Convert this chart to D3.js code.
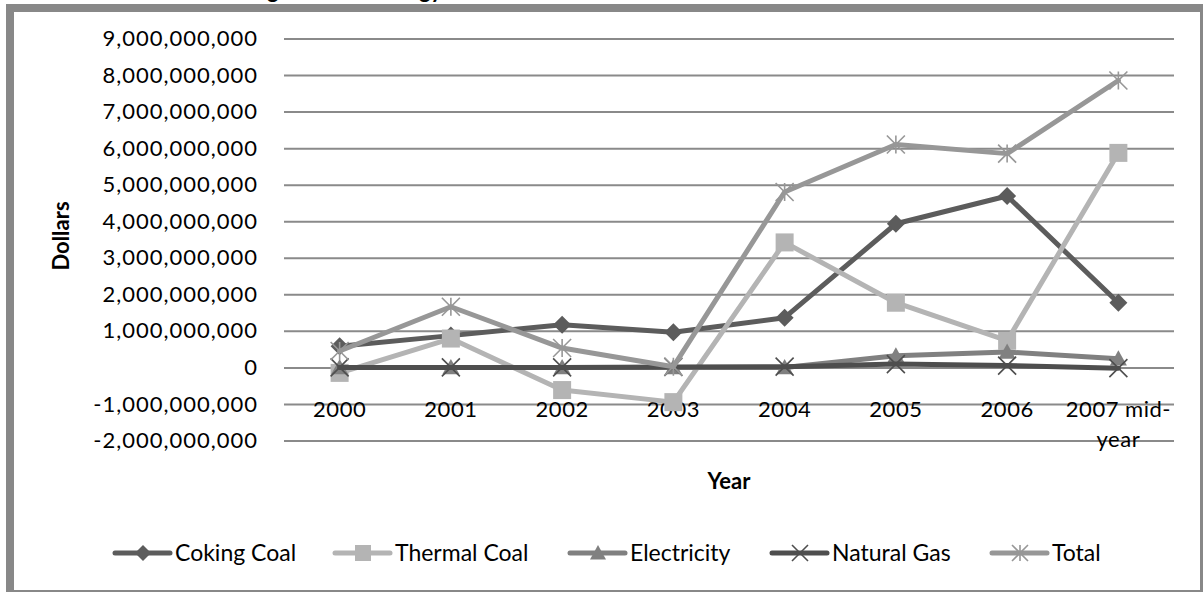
<!DOCTYPE html>
<html>
<head>
<meta charset="utf-8">
<script src="https://cdn.jsdelivr.net/npm/d3@7"></script>
<style>
  html, body { margin: 0; padding: 0; background: #fff; overflow: hidden; }
  svg { display: block; font-family: Lato, "Open Sans", sans-serif; }
</style>
</head>
<body>
<svg id="chart" width="1203" height="592"></svg>
<script>
// ---- data -------------------------------------------------------------
const categories = ["2000", "2001", "2002", "2003", "2004", "2005", "2006", "2007 mid-\nyear"];
const cokingCoal  = [0.58e9, 0.87e9, 1.17e9, 0.96e9, 1.36e9, 3.93e9, 4.69e9, 1.77e9];
const thermalCoal = [-0.15e9, 0.79e9, -0.62e9, -0.95e9, 3.42e9, 1.77e9, 0.73e9, 5.87e9];
const electricity = [0, 0, 0, 0, 0, 0.32e9, 0.42e9, 0.24e9];
const naturalGas  = [0, 0, 0, 0.01e9, 0.02e9, 0.09e9, 0.05e9, -0.02e9];
const total       = [0.45e9, 1.66e9, 0.53e9, 0.02e9, 4.80e9, 6.10e9, 5.85e9, 7.85e9];
const seriesNames = ["Coking Coal", "Thermal Coal", "Electricity", "Natural Gas", "Total"];
const yTicks = d3.range(-2e9, 9e9 + 1, 1e9);
const titleText = "Mining Coal and Energy Trade";

// ---- styling ----------------------------------------------------------
const styles = [
  { color: "#5c5c5c", marker: "diamond" },
  { color: "#b4b4b4", marker: "square" },
  { color: "#808080", marker: "triangle" },
  { color: "#4e4e4e", marker: "x" },
  { color: "#979797", marker: "star" }
];
const seriesValues = [cokingCoal, thermalCoal, electricity, naturalGas, total];
const series = seriesNames.map((name, i) => ({ name, values: seriesValues[i], ...styles[i] }));

const svg = d3.select("#chart");
const plot = { left: 284, right: 1174, top: 38.5, bottom: 440.5 };

const x = d3.scaleBand().domain(categories).range([plot.left, plot.right]);
const cx = c => x(c) + x.bandwidth() / 2;
const y = d3.scaleLinear().domain([-2e9, 9e9]).range([plot.bottom, plot.top]);

// plain hyphen for negative numbers, comma grouping
const fmt = d3.formatLocale({ decimal: ".", thousands: ",", grouping: [3], currency: ["$", ""], minus: "-" }).format(",");

// chart title, sitting above the frame
const title = svg.append("text")
  .attr("y", -2)
  .attr("font-size", 22).attr("font-weight", "bold").attr("fill", "#000")
  .text(titleText);
title.attr("x", 267 - title.node().getSubStringLength(0, titleText.indexOf("g")));

// chart area frame
svg.append("rect")
  .attr("x", 10).attr("y", 8).attr("width", 1194).attr("height", 586)
  .attr("fill", "#fff").attr("stroke", "#888888").attr("stroke-width", 8);

// gridlines + value labels
const yAxis = svg.append("g")
  .attr("transform", `translate(${plot.left},0)`)
  .call(d3.axisLeft(y).tickValues(yTicks).tickFormat(fmt)
    .tickSize(-(plot.right - plot.left)).tickPadding(26));
yAxis.select(".domain").remove();
yAxis.selectAll(".tick line").attr("stroke", "#8a8a8a").attr("stroke-width", 2);
yAxis.selectAll(".tick text").attr("font-size", 22).attr("fill", "#000")
  .attr("font-family", "Lato, sans-serif").attr("letter-spacing", 1);

// category labels
const xAxis = svg.append("g")
  .attr("transform", `translate(0,${y(0)})`)
  .call(d3.axisBottom(x).tickSize(0));
xAxis.select(".domain").remove();
xAxis.selectAll(".tick text").each(function (d) {
  const t = d3.select(this);
  t.text(null).attr("y", 50).attr("dy", 0)
    .attr("font-size", 22).attr("fill", "#000").attr("font-family", "Lato, sans-serif")
    .attr("letter-spacing", 0.5);
  d.split("\n").forEach((line, i) => {
    t.append("tspan").attr("x", 0).attr("dy", i === 0 ? 0 : 30).text(line);
  });
});

// axis titles
svg.append("text")
  .attr("transform", "translate(69,236) rotate(-90)")
  .attr("text-anchor", "middle").attr("font-size", 22).attr("font-weight", "bold")
  .text("Dollars");
svg.append("text")
  .attr("x", (plot.left + plot.right) / 2).attr("y", 489)
  .attr("text-anchor", "middle").attr("font-size", 22).attr("font-weight", "bold")
  .text("Year");

// markers
function drawMarker(g, type, color, px, py, s) {
  const h = s / 2;
  if (type === "diamond") {
    g.append("path").attr("d", `M${px},${py - h}L${px + h},${py}L${px},${py + h}L${px - h},${py}Z`).attr("fill", color);
  } else if (type === "square") {
    g.append("rect").attr("x", px - h).attr("y", py - h).attr("width", s).attr("height", s).attr("fill", color);
  } else if (type === "triangle") {
    g.append("path").attr("d", `M${px},${py - h}L${px + h},${py + h * 0.8}L${px - h},${py + h * 0.8}Z`).attr("fill", color);
  } else if (type === "x") {
    g.append("path").attr("d", `M${px - h},${py - h}L${px + h},${py + h}M${px + h},${py - h}L${px - h},${py + h}`)
      .attr("stroke", color).attr("stroke-width", 1.6).attr("fill", "none");
  } else if (type === "star") {
    g.append("path").attr("d", `M${px - h},${py - h}L${px + h},${py + h}M${px + h},${py - h}L${px - h},${py + h}M${px},${py - h}L${px},${py + h}`)
      .attr("stroke", color).attr("stroke-width", 1.6).attr("fill", "none");
  }
}
const markerSize = { diamond: 18, square: 18, triangle: 17, x: 18, star: 18 };

const line = d3.line().x((d, i) => cx(categories[i])).y(d => y(d));
series.forEach(s => {
  const g = svg.append("g");
  g.append("path").attr("d", line(s.values)).attr("fill", "none")
    .attr("stroke", s.color).attr("stroke-width", 5).attr("stroke-linejoin", "round").attr("stroke-linecap", "round");
  s.values.forEach((v, i) => drawMarker(g, s.marker, s.color, cx(categories[i]), y(v), markerSize[s.marker]));
});

// legend
const legendY = 553;
const legendStarts = [115, 335, 570, 772, 992];
series.forEach((s, i) => {
  const item = svg.append("g").attr("transform", `translate(${legendStarts[i]},0)`);
  item.append("line").attr("x1", 0).attr("x2", 55).attr("y1", legendY).attr("y2", legendY)
    .attr("stroke", s.color).attr("stroke-width", 5).attr("stroke-linecap", "round");
  drawMarker(item, s.marker, s.color, 28, legendY, 16);
  item.append("text").attr("x", 60).attr("y", legendY + 8)
    .attr("font-size", 23).attr("fill", "#000").text(s.name);
});
</script>
</body>
</html>
